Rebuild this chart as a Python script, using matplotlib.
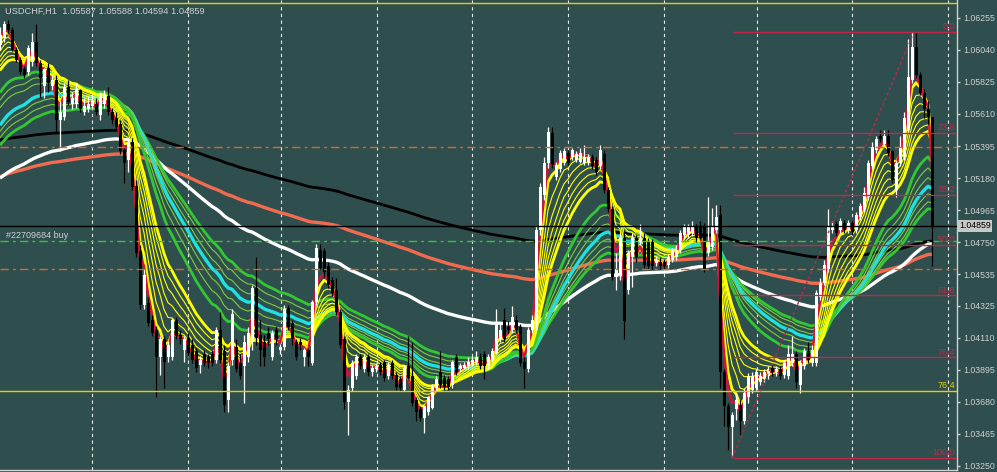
import matplotlib
matplotlib.use("Agg")
import matplotlib.pyplot as plt
import matplotlib.transforms as mtransforms
import numpy as np

# USDCHF H1 candles (oldest first)
opens = [
    1.0607, 1.0612, 1.0621, 1.0617, 1.0604, 1.0597, 1.0591, 1.0589, 1.0596, 1.0609,
    1.0595, 1.0580, 1.0592, 1.0580, 1.0584, 1.0557, 1.0559, 1.0579, 1.0568, 1.0568,
    1.0577, 1.0562, 1.0564, 1.0566, 1.0568, 1.0560, 1.0568, 1.0573, 1.0562, 1.0558,
    1.0554, 1.0537, 1.0530, 1.0542, 1.0513, 1.0469, 1.0433, 1.0434, 1.0423, 1.0416,
    1.0398, 1.0410, 1.0398, 1.0398, 1.0423, 1.0413, 1.0403, 1.0411, 1.0406, 1.0402,
    1.0393, 1.0400, 1.0398, 1.0400, 1.0396, 1.0416, 1.0402, 1.0369, 1.0396, 1.0405,
    1.0394, 1.0392, 1.0398, 1.0408, 1.0444, 1.0413, 1.0408, 1.0414, 1.0398, 1.0416,
    1.0403, 1.0405, 1.0431, 1.0421, 1.0408, 1.0408, 1.0398, 1.0403, 1.0394, 1.0435,
    1.0470, 1.0469, 1.0459, 1.0450, 1.0443, 1.0428, 1.0410, 1.0368, 1.0377, 1.0385,
    1.0398, 1.0390, 1.0398, 1.0388, 1.0390, 1.0393, 1.0395, 1.0385, 1.0394, 1.0386,
    1.0383, 1.0376, 1.0392, 1.0385, 1.0369, 1.0363, 1.0357, 1.0361, 1.0364, 1.0377,
    1.0388, 1.0384, 1.0383, 1.0379, 1.0398, 1.0390, 1.0391, 1.0392, 1.0393, 1.0395,
    1.0398, 1.0400, 1.0392, 1.0396, 1.0401, 1.0410, 1.0423, 1.0418, 1.0416, 1.0423,
    1.0418, 1.0395, 1.0390, 1.0416, 1.0420, 1.0483, 1.0507, 1.0528, 1.0548, 1.0519,
    1.0524, 1.0528, 1.0535, 1.0532, 1.0530, 1.0529, 1.0528, 1.0528, 1.0532, 1.0530,
    1.0526, 1.0534, 1.0510, 1.0497, 1.0452, 1.0453, 1.0478, 1.0443, 1.0465, 1.0478,
    1.0475, 1.0478, 1.0475, 1.0475, 1.0461, 1.0462, 1.0462, 1.0460, 1.0463, 1.0465,
    1.0470, 1.0480, 1.0480, 1.0481, 1.0485, 1.0485, 1.0485, 1.0468, 1.0472, 1.0483,
    1.0493, 1.0388, 1.0365, 1.0351, 1.0363, 1.0366, 1.0355, 1.0371, 1.0376, 1.0377,
    1.0381, 1.0383, 1.0385, 1.0391, 1.0388, 1.0390, 1.0386, 1.0385, 1.0394, 1.0400,
    1.0379, 1.0392, 1.0402, 1.0394, 1.0394, 1.0438, 1.0448, 1.0457, 1.0483, 1.0487,
    1.0483, 1.0488, 1.0483, 1.0488, 1.0483, 1.0492, 1.0497, 1.0505, 1.0526, 1.0537,
    1.0546, 1.0541, 1.0546, 1.0536, 1.0510, 1.0528, 1.0532, 1.0550, 1.0584, 1.0606,
    1.0587, 1.0575, 1.0564, 1.05587,
]
highs = [
    1.0619, 1.0623, 1.0624, 1.0619, 1.0606, 1.0599, 1.0593, 1.0607, 1.0615, 1.0621,
    1.0597, 1.0592, 1.0595, 1.0587, 1.0587, 1.0570, 1.0582, 1.0584, 1.0576, 1.0582,
    1.0578, 1.0572, 1.0573, 1.0574, 1.0572, 1.0576, 1.0577, 1.0579, 1.0565, 1.0562,
    1.0557, 1.0539, 1.0545, 1.0545, 1.0517, 1.0473, 1.0457, 1.0438, 1.0426, 1.0419,
    1.0412, 1.0412, 1.0409, 1.0424, 1.0425, 1.0416, 1.0412, 1.0414, 1.0410, 1.0404,
    1.0399, 1.0403, 1.0400, 1.0403, 1.0418, 1.0428, 1.0406, 1.0395, 1.0430, 1.0410,
    1.0400, 1.0413, 1.0418, 1.0446, 1.0465, 1.0423, 1.0413, 1.0418, 1.0416, 1.0419,
    1.0407, 1.0433, 1.0433, 1.0423, 1.0410, 1.0411, 1.0404, 1.0404, 1.0436, 1.0474,
    1.0474, 1.0471, 1.0462, 1.0452, 1.0451, 1.0430, 1.0412, 1.0379, 1.0396, 1.0400,
    1.0400, 1.0400, 1.0400, 1.0393, 1.0394, 1.0395, 1.0396, 1.0395, 1.0396, 1.0388,
    1.0385, 1.0393, 1.0412, 1.0408, 1.0371, 1.0365, 1.0366, 1.0372, 1.0380, 1.0385,
    1.0402, 1.0386, 1.0385, 1.0396, 1.0400, 1.0394, 1.0395, 1.0398, 1.0399, 1.0402,
    1.0401, 1.0402, 1.0400, 1.0404, 1.0430, 1.0420, 1.0431, 1.0422, 1.0432, 1.0426,
    1.0420, 1.0398, 1.0418, 1.0426, 1.0486, 1.0515, 1.0532, 1.0552, 1.0552, 1.0529,
    1.0537, 1.0538, 1.0537, 1.0538, 1.0536, 1.0538, 1.0540, 1.0534, 1.0534, 1.0532,
    1.0540, 1.0537, 1.0512, 1.0499, 1.0468, 1.0481, 1.0483, 1.0470, 1.0481, 1.0480,
    1.0487, 1.0481, 1.0478, 1.0477, 1.0466, 1.0465, 1.0464, 1.0467, 1.0471, 1.0473,
    1.0483, 1.0487, 1.0487, 1.0489, 1.0487, 1.0489, 1.0488, 1.0505, 1.0498, 1.0500,
    1.0500, 1.0390, 1.0367, 1.0361, 1.0373, 1.0369, 1.0377, 1.0387, 1.0388, 1.0390,
    1.0388, 1.0390, 1.0392, 1.0393, 1.0392, 1.0392, 1.0396, 1.0406, 1.0412, 1.0402,
    1.0396, 1.0404, 1.0408, 1.0406, 1.0443, 1.0451, 1.0463, 1.0497, 1.0489, 1.0489,
    1.0491, 1.0490, 1.0490, 1.0490, 1.0495, 1.0501, 1.0512, 1.0530, 1.0542, 1.0546,
    1.0550, 1.0550, 1.0550, 1.0537, 1.0530, 1.0546, 1.0562, 1.0611, 1.0616, 1.0616,
    1.0589, 1.0578, 1.0570, 1.05588,
]
lows = [
    1.0604, 1.0609, 1.0615, 1.0603, 1.0596, 1.0588, 1.0585, 1.0587, 1.0593, 1.0593,
    1.0572, 1.0572, 1.0576, 1.0577, 1.0549, 1.0536, 1.0557, 1.0567, 1.0564, 1.0565,
    1.0562, 1.0560, 1.0562, 1.0564, 1.0560, 1.0557, 1.0565, 1.0560, 1.0554, 1.0550,
    1.0534, 1.0515, 1.0522, 1.0510, 1.0465, 1.0430, 1.0430, 1.0419, 1.0412, 1.0371,
    1.0386, 1.0377, 1.0395, 1.0396, 1.0410, 1.0407, 1.0395, 1.0399, 1.0394, 1.0388,
    1.0387, 1.0392, 1.0391, 1.0392, 1.0394, 1.0394, 1.0361, 1.0361, 1.0393, 1.0388,
    1.0383, 1.0367, 1.0395, 1.0403, 1.0406, 1.0392, 1.0392, 1.0406, 1.0396, 1.0406,
    1.0400, 1.0403, 1.0416, 1.0406, 1.0396, 1.0403, 1.0392, 1.0392, 1.0393, 1.0433,
    1.0457, 1.0452, 1.0444, 1.0439, 1.0426, 1.0404, 1.0363, 1.0346, 1.0375, 1.0383,
    1.0390, 1.0388, 1.0385, 1.0385, 1.0388, 1.0386, 1.0382, 1.0383, 1.0383, 1.0376,
    1.0375, 1.0375, 1.0383, 1.0365, 1.0355, 1.0355, 1.0347, 1.0359, 1.0363, 1.0376,
    1.0377, 1.0376, 1.0376, 1.0377, 1.0386, 1.0388, 1.0390, 1.0390, 1.0392, 1.0393,
    1.0390, 1.0383, 1.0390, 1.0395, 1.0400, 1.0408, 1.0408, 1.0414, 1.0414, 1.0414,
    1.0392, 1.0377, 1.0388, 1.0414, 1.0416, 1.0480, 1.0503, 1.0525, 1.0525, 1.0517,
    1.0522, 1.0527, 1.0527, 1.0530, 1.0529, 1.0528, 1.0527, 1.0527, 1.0524, 1.0520,
    1.0524, 1.0508, 1.0495, 1.0450, 1.0443, 1.0450, 1.0410, 1.0440, 1.0445, 1.0462,
    1.0473, 1.0458, 1.0457, 1.0457, 1.0459, 1.0457, 1.0457, 1.0458, 1.0462, 1.0463,
    1.0468, 1.0478, 1.0478, 1.0479, 1.0475, 1.0477, 1.0455, 1.0466, 1.0470, 1.0481,
    1.0377, 1.0352, 1.0336, 1.0331, 1.0356, 1.0346, 1.0353, 1.0367, 1.0374, 1.0376,
    1.0379, 1.0381, 1.0383, 1.0385, 1.0385, 1.0383, 1.0384, 1.0383, 1.0392, 1.0377,
    1.0374, 1.0390, 1.0394, 1.0392, 1.0392, 1.0436, 1.0446, 1.0455, 1.0481, 1.0479,
    1.0481, 1.0481, 1.0481, 1.0480, 1.0481, 1.0490, 1.0495, 1.0503, 1.0524, 1.0535,
    1.0542, 1.0540, 1.0533, 1.0515, 1.0505, 1.0526, 1.0530, 1.0548, 1.0582, 1.0585,
    1.0574, 1.0558, 1.0554, 1.04594,
]
closes = [
    1.0614, 1.0621, 1.0617, 1.0604, 1.0597, 1.0589, 1.0587, 1.0605, 1.0609, 1.0595,
    1.0585, 1.0591, 1.0582, 1.0584, 1.0557, 1.0562, 1.0579, 1.0569, 1.0572, 1.0578,
    1.0564, 1.0566, 1.0568, 1.0570, 1.0562, 1.0574, 1.0573, 1.0562, 1.0557, 1.0552,
    1.0536, 1.0528, 1.0542, 1.0512, 1.0468, 1.0433, 1.0453, 1.0421, 1.0414, 1.0398,
    1.0410, 1.0395, 1.0406, 1.0423, 1.0412, 1.0410, 1.0410, 1.0401, 1.0396, 1.0391,
    1.0396, 1.0394, 1.0394, 1.0394, 1.0416, 1.0396, 1.0366, 1.0392, 1.0427, 1.0390,
    1.0385, 1.0408, 1.0414, 1.0444, 1.0411, 1.0403, 1.0398, 1.0410, 1.0414, 1.0410,
    1.0405, 1.0430, 1.0418, 1.0410, 1.0398, 1.0406, 1.0403, 1.0398, 1.0435, 1.0471,
    1.0458, 1.0455, 1.0446, 1.0441, 1.0428, 1.0406, 1.0368, 1.0376, 1.0394, 1.0398,
    1.0392, 1.0398, 1.0388, 1.0391, 1.0392, 1.0388, 1.0384, 1.0393, 1.0385, 1.0378,
    1.0377, 1.0391, 1.0384, 1.0367, 1.0361, 1.0357, 1.0365, 1.0371, 1.0378, 1.0383,
    1.0379, 1.0378, 1.0378, 1.0395, 1.0388, 1.0392, 1.0393, 1.0395, 1.0396, 1.0398,
    1.0392, 1.0392, 1.0398, 1.0402, 1.0421, 1.0416, 1.0410, 1.0416, 1.0425, 1.0416,
    1.0394, 1.0390, 1.0416, 1.0423, 1.0483, 1.0512, 1.0528, 1.0549, 1.0527, 1.0527,
    1.0535, 1.0536, 1.0528, 1.0537, 1.0534, 1.0535, 1.0532, 1.0532, 1.0526, 1.0522,
    1.0537, 1.0510, 1.0497, 1.0452, 1.0457, 1.0478, 1.0422, 1.0468, 1.0478, 1.0465,
    1.0478, 1.0460, 1.0459, 1.0459, 1.0463, 1.0459, 1.0459, 1.0465, 1.0469, 1.0470,
    1.0481, 1.0485, 1.0485, 1.0485, 1.0478, 1.0478, 1.0457, 1.0475, 1.0485, 1.0492,
    1.0388, 1.0365, 1.0351, 1.0359, 1.0369, 1.0355, 1.0374, 1.0385, 1.0385, 1.0388,
    1.0385, 1.0388, 1.0390, 1.0388, 1.0390, 1.0385, 1.0394, 1.0400, 1.0400, 1.0381,
    1.0394, 1.0402, 1.0396, 1.0403, 1.0441, 1.0448, 1.0460, 1.0485, 1.0485, 1.0481,
    1.0489, 1.0483, 1.0488, 1.0482, 1.0493, 1.0499, 1.0508, 1.0528, 1.0539, 1.0544,
    1.0544, 1.0546, 1.0535, 1.0517, 1.0528, 1.0539, 1.0558, 1.0586, 1.0606, 1.0587,
    1.0575, 1.0564, 1.0559, 1.04859,
]

# moving averages: period and starting value at the left edge of the chart
ma_periods = [290, 200, 100, 50, 45, 40, 36, 32, 28, 24, 16, 14, 12, 10, 8, 6, 4, 3]
ma_seeds = [1.0543, 1.0518, 1.0516, 1.0537, 1.0542, 1.0546, 1.0550, 1.0562, 1.0567, 1.0572,
            1.0587, 1.0590, 1.0593, 1.0596, 1.0600, 1.0604, 1.0608, 1.0610]

y_ticks = [1.06255, 1.06040, 1.05825, 1.05610, 1.05395, 1.05180, 1.04965, 1.04750,
           1.04535, 1.04325, 1.04110, 1.03895, 1.03680, 1.03465, 1.03250]
grid_bars = [23, 47, 70.25, 94.25, 118, 142, 166, 189.25, 213, 237]

fib_high, fib_low = 1.06159, 1.03304
fib_levels = [0.0, 23.6, 38.2, 50.0, 61.8, 76.4, 100.0]
fib_start_bar, fib_end_bar = 183, 228.5
yfib_prices = [1.06354, 1.03754]
yfib_labels = ["0.0", "76.4"]

tp_price, order_price, sl_price = 1.05389, 1.04759, 1.04572
bid = 1.04859
title = "USDCHF,H1  1.05587 1.05588 1.04594 1.04859"

BG = "#2F4F4F"
FG = "#D0D0D0"
FIB_RED = "#C0284A"
FONT = "Liberation Sans"


def ema(values, period, seed):
    a = 2.0 / (period + 1)
    out, e = [], seed
    for v in values:
        e = e + a * (v - e)
        out.append(e)
    return np.array(out)


W, H = 997, 472
fig = plt.figure(figsize=(W / 100, H / 100), dpi=100, facecolor=BG)
ax = fig.add_axes([0, 2 / H, 957 / W, 470 / H], facecolor=BG)
ax.set_xlim(0, 957 / 4)
ax.set_ylim(1.03223, 1.06374)

o, h, l, c = map(np.array, (opens, highs, lows, closes))
x = np.arange(len(c))

# vertical grid
for g in grid_bars:
    ax.axvline(g, color="#E8E8E8", lw=0.8, ls=(0, (3, 3)), zorder=0.5)

# moving averages
ma_styles = {
    290: ("#000000", 2.0), 200: ("#F26B50", 2.4), 100: ("#FFFFFF", 2.4),
    50: ("#32C832", 2.0), 45: ("#7CCD3C", 0.8), 40: ("#7CCD3C", 0.8),
    36: ("#20E0E0", 2.4), 32: ("#7CCD3C", 0.8), 28: ("#7CCD3C", 0.8), 24: ("#32C832", 2.0),
    16: ("#FFFF00", 2.0), 14: ("#FFFF00", 0.8), 12: ("#FFFF00", 0.8), 10: ("#FFFF00", 0.8),
    8: ("#FFFF00", 0.8), 6: ("#FFFF00", 0.8), 4: ("#FFFF00", 2.0), 3: ("#D2143C", 1.8),
}
for p, s in zip(ma_periods, ma_seeds):
    col, lw = ma_styles[p]
    ax.plot(x, ema(c, p, s), color=col, lw=lw, zorder=2, solid_capstyle="butt")

# candles
up = c >= o
cols = np.where(up, "#FFFFFF", "#000000")
ax.vlines(x, l, h, colors=cols, lw=0.9, zorder=3)
body = np.maximum(np.abs(c - o), 0.00003)
ax.bar(x, body, bottom=np.minimum(o, c), width=0.75, color=cols, lw=0, zorder=3)

# objects
for p in yfib_prices:
    ax.axhline(p, color="#E8D000", lw=1, zorder=4)
for p, t in zip(yfib_prices, yfib_labels):
    ax.text(238.8, p + 0.00004, t, color="#E8D000", fontsize=6.5, family=FONT,
            ha="right", va="bottom", zorder=5)

fib_prices = [fib_high - (fib_high - fib_low) * lv / 100 for lv in fib_levels]
ax.hlines(fib_prices, 183.25, 957 / 4, colors=FIB_RED, lw=1, zorder=4)
for p, lv in zip(fib_prices, fib_levels):
    ax.text(238.8, p + 0.00004, f"{lv:.1f}", color=FIB_RED, fontsize=6.5, family=FONT,
            ha="right", va="bottom", zorder=5)
ax.plot([fib_start_bar, fib_end_bar], [fib_low, fib_high], color=FIB_RED, lw=1,
        ls=(0, (2, 2)), zorder=4)

ax.axhline(tp_price, color="#E0642A", lw=1, ls=(0, (6, 3, 2, 3)), zorder=4)
ax.axhline(sl_price, color="#E0642A", lw=1, ls=(0, (6, 3, 2, 3)), zorder=4)
ax.axhline(order_price, color="#32C832", lw=1, ls=(0, (6, 3, 2, 3)), zorder=4)
ax.text(1.5, order_price + 0.00004, "#22709684 buy", color=FG, fontsize=6.5,
        family=FONT, va="bottom", zorder=5)
ax.axhline(bid, color="#000000", lw=1, zorder=4)

# axes look
for side in ("top", "left"):
    ax.spines[side].set_visible(False)
for side in ("right", "bottom"):
    ax.spines[side].set_color(FG)
    ax.spines[side].set_linewidth(1)
ax.set_xticks([])
ax.yaxis.tick_right()
ax.set_yticks(y_ticks)
ax.set_yticklabels([f"{t:.5f}" for t in y_ticks], family=FONT, fontsize=6.3, color=FG)
ax.tick_params(axis="y", colors=FG, length=2.2, width=1, pad=2, labelcolor=FG)

trans = mtransforms.blended_transform_factory(ax.transAxes, ax.transData)
ax.text(1.002, bid, f"{bid:.5f}", transform=trans, color="#000000", fontsize=6.3,
        family=FONT, va="center", ha="left", zorder=6, clip_on=False,
        bbox=dict(facecolor="#C8C8C8", edgecolor="none", pad=1.2))

fig.text(5 / W, 1 - 11 / H, title, color=FG, fontsize=6.7, family=FONT, va="center")

fig.savefig("out.png", dpi=100, facecolor=BG)
